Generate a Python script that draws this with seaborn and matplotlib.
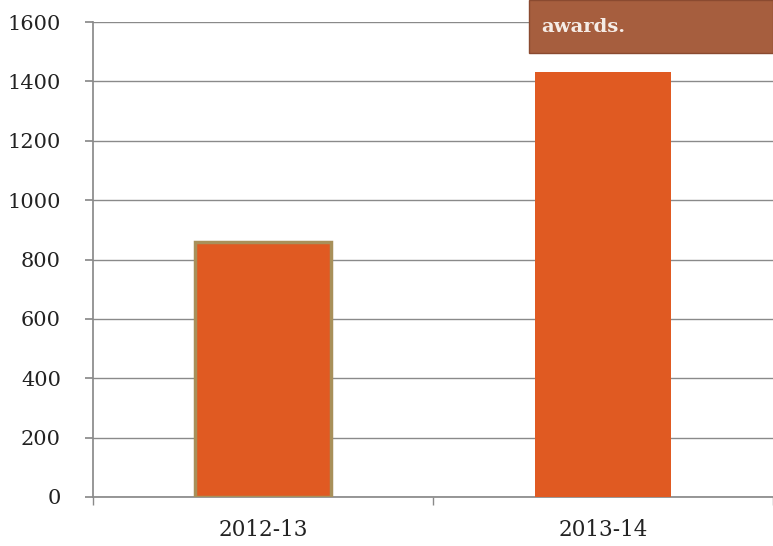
import matplotlib
matplotlib.use("Agg")
import matplotlib.pyplot as plt
import seaborn as sns
import pandas as pd

categories = ["2012-13", "2013-14"]
values = [860, 1430]
yticks = [0, 200, 400, 600, 800, 1000, 1200, 1400, 1600]

sns.set_theme(style="white")
plt.rcParams['font.family'] = ['DejaVu Serif', 'Liberation Serif']

df = pd.DataFrame({"year": categories, "count": values})

fig = plt.figure(figsize=(7.73, 5.46), dpi=100)
ax = fig.add_axes([93/773, 1 - 497/546, 1 - 93/773, (497 - 22)/546])

bar_color = "#E05A22"
sns.barplot(data=df, x="year", y="count", color=bar_color, width=0.4,
            saturation=1, ax=ax, zorder=3)
for i, p in enumerate(ax.patches):
    if i == 0:
        p.set_edgecolor("#A8905A")
        p.set_linewidth(2.5)
    else:
        p.set_edgecolor("none")

ax.set_xlim(-0.5, 1.5)
ax.set_ylim(0, 1600)
ax.set_yticks(yticks)
ax.set_yticklabels([str(t) for t in yticks], fontsize=15, color="#222222")
ax.set_xticks([0, 1])
ax.set_xticklabels(categories, fontsize=15.5, color="#222222")
ax.set_xlabel("")
ax.set_ylabel("")

ax.grid(axis="y", color="#8a8a8a", linewidth=1.0, zorder=0)
ax.set_axisbelow(True)
for s in ["top", "right"]:
    ax.spines[s].set_visible(False)
ax.spines["left"].set_color("#8a8a8a")
ax.spines["bottom"].set_color("#8a8a8a")
ax.tick_params(axis="y", which="major", length=6, color="#8a8a8a", left=True, pad=17)
ax.tick_params(axis="x", which="major", length=0, pad=16)
# minor ticks at category boundaries
ax.set_xticks([-0.5, 0.5, 1.5], minor=True)
ax.tick_params(axis="x", which="minor", length=6, color="#8a8a8a", bottom=True)

# annotation box at top right
fig.patches.append(plt.Rectangle((529/773, 1 - 53/546), (773 - 529)/773, 53/546,
                                 transform=fig.transFigure, facecolor="#A65E3E",
                                 edgecolor="#8a4a30", linewidth=1, zorder=5))
fig.text(541/773, 1 - 27/546, "awards.", fontsize=14, fontweight="bold",
         color="#F5ECE6", va="center", ha="left", zorder=6)

fig.savefig("out.png", dpi=100)
